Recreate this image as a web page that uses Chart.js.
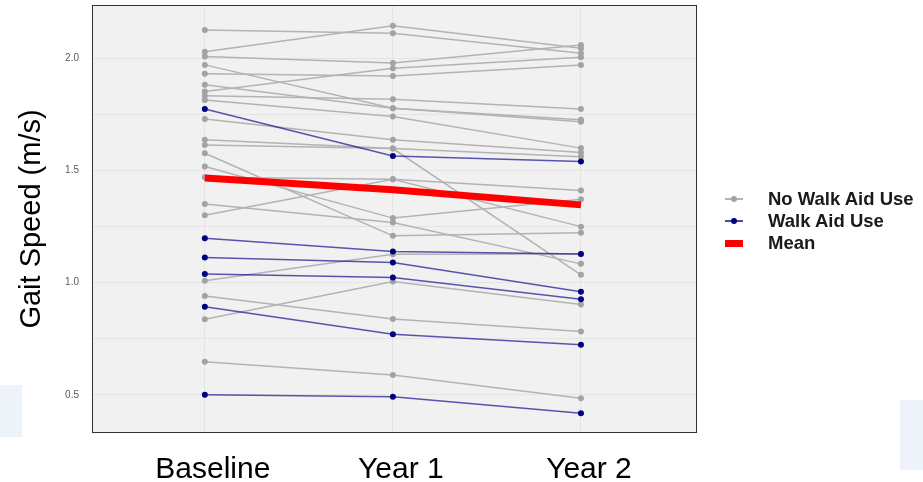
<!DOCTYPE html>
<html>
<head>
<meta charset="utf-8">
<script src="https://cdn.jsdelivr.net/npm/chart.js@4.4.1/dist/chart.umd.min.js"></script>
<style>
  body { margin: 0; background: #fff; }
  #wrap { position: relative; width: 923px; height: 482px; }
  .smudge { position: absolute; background: #eef3f9; }
  #legend { position: absolute; left: 725px; top: 188px; font: bold 18.5px "Liberation Sans", Arial, sans-serif; color: #1a1a1a; }
  .row { position: relative; height: 22px; line-height: 22px; padding-left: 43px; white-space: nowrap; }
  .key { position: absolute; left: 0; top: 10px; width: 18px; height: 2px; }
  .dot { position: absolute; left: 6px; top: -2px; width: 6px; height: 6px; border-radius: 3px; }
</style>
</head>
<body>
<div id="wrap">
  <div class="smudge" style="left:0;top:385px;width:22px;height:52px"></div>
  <div class="smudge" style="left:900px;top:400px;width:23px;height:70px"></div>
  <canvas id="gaitChart" width="923" height="482"></canvas>
  <div id="legend">
    <div class="row"><span class="key" style="background:#b3b3b3"><span class="dot" style="background:#a3a3a3"></span></span>No Walk Aid Use</div>
    <div class="row"><span class="key" style="background:#4a4ab0"><span class="dot" style="background:#000080"></span></span>Walk Aid Use</div>
    <div class="row"><span class="key" style="background:#ff0000;height:7px;top:8px"></span>Mean</div>
  </div>
</div>
<script>
// gait speed (m/s) per participant at each visit
const timepoints = ['Baseline', 'Year 1', 'Year 2'];
const noAidSpeeds = [
  [2.127, 2.112, 2.023],
  [2.030, 2.145, 2.045],
  [2.008, 1.979, 2.060],
  [1.971, 1.778, 1.726],
  [1.931, 1.922, 1.971],
  [1.882, 1.778, 1.718],
  [1.852, 1.956, 2.005],
  [1.833, 1.818, 1.774],
  [1.815, 1.741, 1.600],
  [1.730, 1.637, 1.580],
  [1.637, 1.598, 1.562],
  [1.614, 1.598, 1.035],
  [1.577, 1.209, 1.223],
  [1.518, 1.288, 1.372],
  [1.470, 1.461, 1.411],
  [1.351, 1.268, 1.084],
  [1.301, 1.461, 1.250],
  [1.009, 1.127, 1.128],
  [0.941, 0.838, 0.782],
  [0.837, 1.005, 0.903],
  [0.648, 0.589, 0.485]
];
const walkAidSpeeds = [
  [1.774, 1.565, 1.540],
  [1.198, 1.139, 1.128],
  [1.112, 1.090, 0.960],
  [1.039, 1.023, 0.926],
  [0.893, 0.770, 0.723],
  [0.500, 0.492, 0.418]
];
const meanSpeed = [1.467, 1.414, 1.347];
const yTicks = [0.5, 0.75, 1.0, 1.25, 1.5, 1.75, 2.0];

const toPoints = vals => vals.map((v, i) => ({ x: i, y: v }));

let datasets = [];
noAidSpeeds.forEach(s => datasets.push({
  data: toPoints(s), borderColor: '#b3b3b3', borderWidth: 1.5,
  pointRadius: 3, pointBackgroundColor: '#a3a3a3', pointBorderWidth: 0, order: 2
}));
walkAidSpeeds.forEach(s => datasets.push({
  data: toPoints(s), borderColor: 'rgba(0,0,139,0.65)', borderWidth: 1.5,
  pointRadius: 3, pointBackgroundColor: '#000080', pointBorderWidth: 0, order: 1
}));
datasets.push({
  data: toPoints(meanSpeed), borderColor: '#ff0000', borderWidth: 7,
  pointRadius: 0, order: 0
});

// grey panel with a dark frame
const panel = {
  id: 'panel',
  beforeDraw(chart) {
    const { ctx, chartArea: a } = chart;
    ctx.save();
    ctx.fillStyle = '#f1f1f1';
    ctx.fillRect(a.left, a.top, a.right - a.left, a.bottom - a.top);
    ctx.restore();
  },
  afterDraw(chart) {
    const { ctx, chartArea: a } = chart;
    ctx.save();
    ctx.strokeStyle = '#333';
    ctx.lineWidth = 1;
    ctx.strokeRect(a.left + 0.5, a.top + 0.5, a.right - a.left - 1, a.bottom - a.top - 1);
    ctx.restore();
  }
};

new Chart(document.getElementById('gaitChart'), {
  type: 'line',
  data: { datasets: datasets },
  plugins: [panel],
  options: {
    responsive: false,
    animation: false,
    layout: { padding: { top: 5, right: 226, left: 0, bottom: 0 } },
    plugins: { legend: { display: false }, tooltip: { enabled: false } },
    scales: {
      x: {
        type: 'linear', min: -0.6, max: 2.617,
        afterBuildTicks: s => { s.ticks = [0, 1, 2].map(v => ({ value: v })); },
        afterFit: s => { s.height = 49; s.paddingLeft = 0; s.paddingRight = 0; },
        grid: { color: '#e4e4e4', drawTicks: false },
        border: { display: false },
        ticks: {
          padding: 19, labelOffset: 8, color: '#000',
          font: { family: 'Liberation Sans, Arial', size: 30 },
          callback: v => timepoints[v]
        }
      },
      y: {
        min: 0.33, max: 2.238,
        afterBuildTicks: s => { s.ticks = yTicks.map(v => ({ value: v })); },
        afterFit: s => { s.width = 92; s.paddingTop = 0; s.paddingBottom = 0; },
        grid: { color: '#e4e4e4', drawTicks: false },
        border: { display: false },
        ticks: {
          padding: 13, color: '#5a5a5a',
          font: { family: 'Liberation Sans, Arial', size: 10 },
          callback: v => (v * 2) % 1 === 0 ? v.toFixed(1) : ''
        },
        title: {
          display: true, text: 'Gait Speed (m/s)', color: '#000',
          font: { family: 'Liberation Sans, Arial', size: 29 },
          padding: { top: 15 }
        }
      }
    }
  }
});
</script>
</body>
</html>
